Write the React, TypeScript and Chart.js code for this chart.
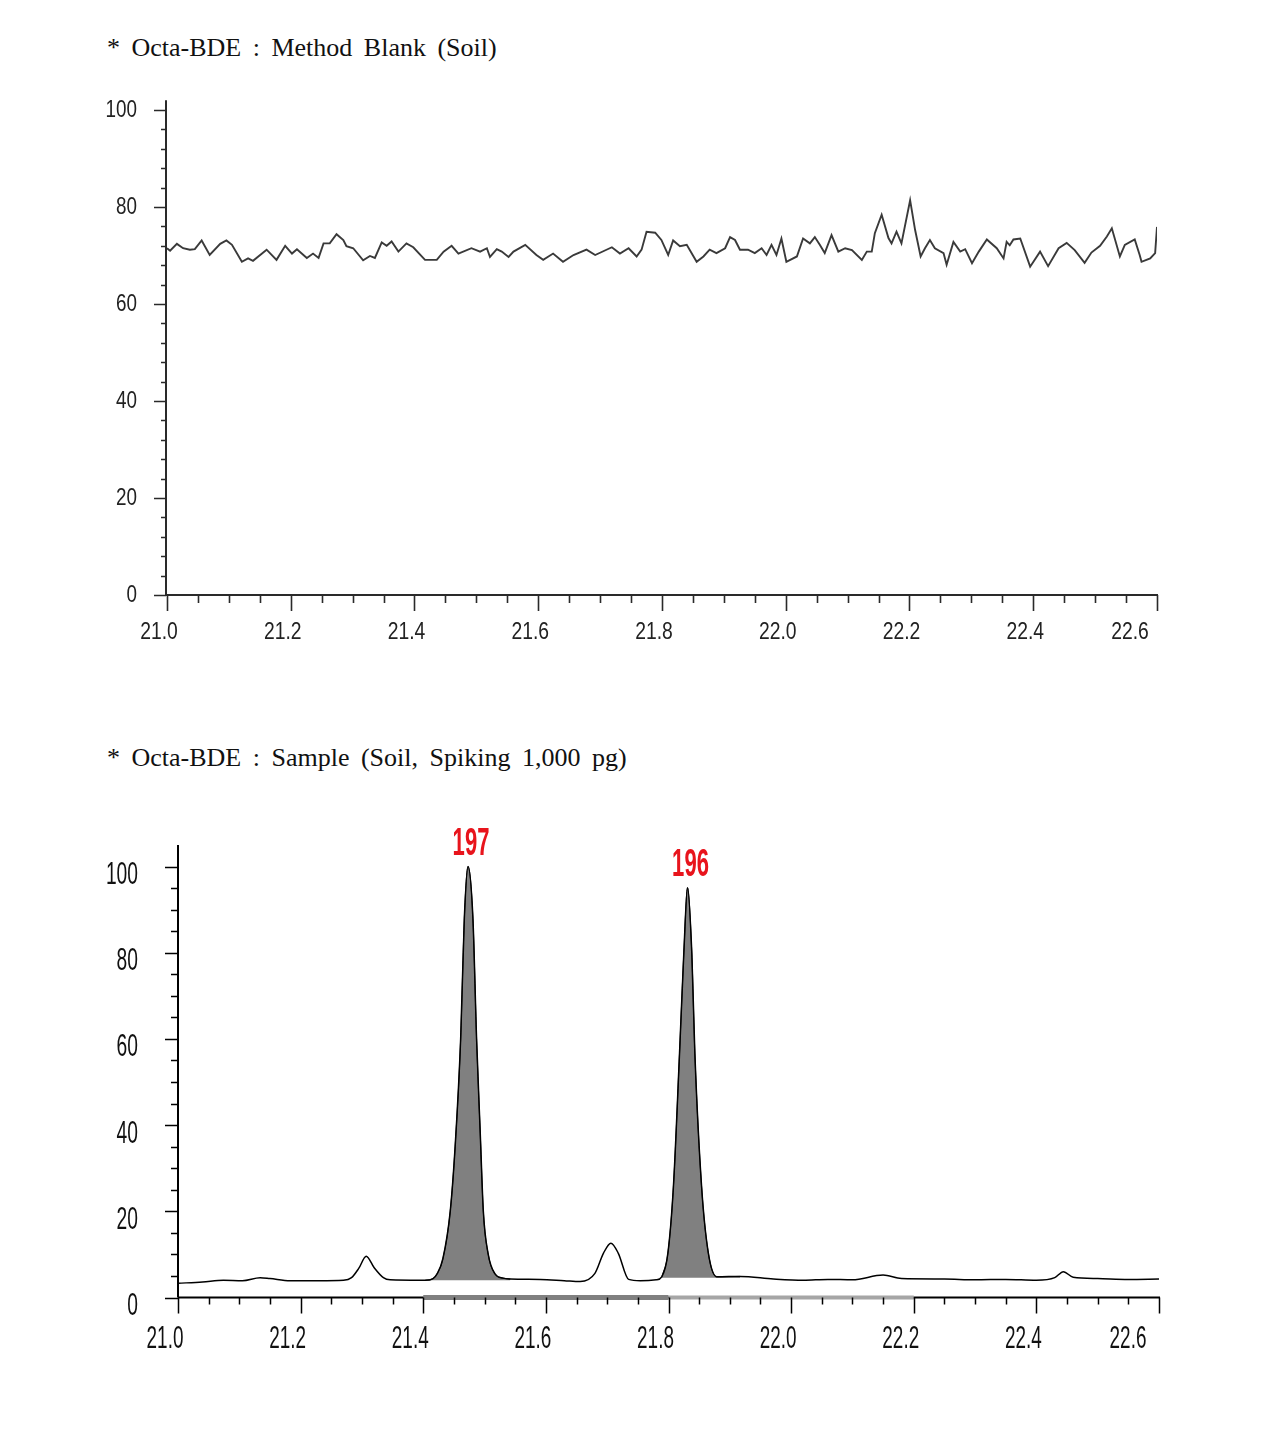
import React, { useEffect, useRef } from 'react';
import { Chart, registerables } from 'chart.js';

Chart.register(...registerables);

// ---------- DATA ----------
const titles = [
  '* Octa-BDE : Method Blank (Soil)',
  '* Octa-BDE : Sample (Soil, Spiking 1,000 pg)',
];

const xTickLabels = ['21.0', '21.2', '21.4', '21.6', '21.8', '22.0', '22.2', '22.4', '22.6'];
const yTickLabels = ['0', '20', '40', '60', '80', '100'];

// Method blank trace (retention time, relative abundance)
const blankTime = [
  21.000, 21.005, 21.016, 21.026, 21.037, 21.045, 21.056, 21.069, 21.086, 21.096,
  21.105, 21.121, 21.131, 21.139, 21.161, 21.177, 21.191, 21.202, 21.210, 21.226,
  21.236, 21.245, 21.253, 21.263, 21.274, 21.285, 21.290, 21.301, 21.317, 21.328,
  21.336, 21.347, 21.355, 21.363, 21.374, 21.387, 21.398, 21.417, 21.436, 21.447,
  21.460, 21.471, 21.492, 21.506, 21.517, 21.522, 21.533, 21.541, 21.552, 21.560,
  21.579, 21.597, 21.608, 21.624, 21.640, 21.657, 21.678, 21.692, 21.719, 21.732,
  21.746, 21.759, 21.767, 21.775, 21.789, 21.799, 21.810, 21.818, 21.829, 21.840,
  21.856, 21.867, 21.877, 21.888, 21.902, 21.910, 21.918, 21.926, 21.939, 21.950,
  21.961, 21.969, 21.977, 21.985, 21.993, 22.001, 22.018, 22.028, 22.039, 22.047,
  22.055, 22.063, 22.074, 22.085, 22.096, 22.107, 22.123, 22.131, 22.139, 22.144,
  22.155, 22.166, 22.171, 22.179, 22.187, 22.201, 22.209, 22.218, 22.225, 22.233,
  22.241, 22.255, 22.260, 22.271, 22.282, 22.290, 22.301, 22.312, 22.325, 22.341,
  22.352, 22.357, 22.362, 22.368, 22.379, 22.395, 22.411, 22.424, 22.441, 22.454,
  22.467, 22.483, 22.494, 22.508, 22.519, 22.527, 22.540, 22.548, 22.564, 22.572,
  22.575, 22.589, 22.597, 22.600,
];
const blankIntensity = [
  71.5, 71.0, 72.4, 71.5, 71.2, 71.3, 73.1, 70.1, 72.4, 73.1,
  72.2, 68.7, 69.4, 68.9, 71.2, 69.1, 72.0, 70.4, 71.3, 69.5,
  70.4, 69.5, 72.5, 72.5, 74.4, 73.2, 71.9, 71.5, 69.0, 69.9,
  69.5, 72.7, 72.0, 72.9, 70.8, 72.5, 71.7, 69.1, 69.1, 70.8,
  72.0, 70.4, 71.5, 70.8, 71.5, 69.7, 71.3, 70.8, 69.7, 70.8,
  72.2, 70.1, 69.1, 70.4, 68.7, 70.1, 71.2, 70.1, 71.7, 70.4,
  71.5, 69.8, 71.2, 74.9, 74.7, 73.2, 70.1, 73.1, 71.9, 72.2,
  68.7, 69.8, 71.2, 70.5, 71.5, 73.8, 73.2, 71.2, 71.2, 70.5,
  71.5, 70.1, 72.2, 70.1, 73.5, 68.7, 69.8, 73.5, 72.5, 73.8,
  72.2, 70.5, 74.2, 70.8, 71.5, 71.1, 69.1, 70.8, 70.8, 74.6,
  78.4, 73.6, 72.5, 74.9, 72.5, 81.4, 75.3, 69.8, 71.5, 73.2,
  71.5, 70.5, 68.1, 72.8, 70.8, 71.3, 68.4, 70.8, 73.3, 71.5,
  69.4, 72.8, 72.1, 73.3, 73.5, 67.7, 70.8, 67.8, 71.5, 72.6,
  71.1, 68.5, 70.6, 72.0, 73.9, 75.6, 69.8, 72.2, 73.3, 70.1,
  68.7, 69.4, 70.5, 75.9,
];

// Spiked sample trace
const sampleTime = [
  21.000, 21.040, 21.074, 21.105, 21.134, 21.150, 21.183, 21.230, 21.270, 21.283,
  21.295, 21.307, 21.320, 21.335, 21.346, 21.395, 21.403, 21.416, 21.4225, 21.432,
  21.444, 21.452, 21.461, 21.467, 21.473, 21.481, 21.487, 21.493, 21.498, 21.506,
  21.517, 21.530, 21.542, 21.591, 21.630, 21.656, 21.680, 21.694, 21.706, 21.718,
  21.735, 21.754, 21.780, 21.789, 21.799, 21.808, 21.818, 21.825, 21.831, 21.838,
  21.843, 21.854, 21.865, 21.879, 21.917, 21.971, 22.020, 22.060, 22.100, 22.150,
  22.180, 22.250, 22.300, 22.350, 22.400, 22.430, 22.444, 22.460, 22.500, 22.550,
  22.600,
];
const sampleIntensity = [
  3.3, 3.6, 4.0, 3.9, 4.6, 4.4, 3.9, 3.9, 4.0, 4.6,
  6.8, 9.6, 6.9, 4.6, 4.1, 4.0, 4.0, 4.4, 5.5, 9.0,
  20.0, 35.0, 60.0, 88.0, 100.0, 88.0, 60.0, 38.0, 20.0, 10.0,
  5.5, 4.5, 4.3, 4.2, 3.9, 3.7, 5.6, 10.3, 12.6, 10.3,
  4.2, 3.9, 4.1, 4.8, 10.3, 25.7, 56.7, 80.0, 95.1, 80.0,
  56.7, 25.7, 10.3, 4.8, 4.9, 4.3, 4.0, 4.2, 4.1, 5.2,
  4.4, 4.3, 4.1, 4.2, 4.0, 4.6, 6.0, 4.7, 4.4, 4.2,
  4.3,
];

const peakNames = ['197', '196'];
const peakTimes = [21.473, 21.831];
const peakHeights = [100, 95.1];
const peakStart = [21.403, 21.789];
const peakEnd = [21.542, 21.917];
const peakBase = [4.0, 4.6];

// ---------- PLUGINS ----------
type AxisCfg = {
  yMax: number;
  axisColor: string;
  axisWidth: number;
  tickWidth: number;
  yAxisDx: number;
  yStep: number;
  yMajLen: number;
  yMinLen: number;
  xMajLen: number;
  xMinLen: number;
  font: string;
  labelColor: string;
  ySx: number;
  xSx: number;
  yLabelGap: number;
  yLabelDy: number;
  xLabelDy: number;
  xLabelDx: number;
  xLastDx: number;
  bands?: [number, number, string, number][];
};

function makeAxesPlugin(cfg: AxisCfg) {
  return {
    id: 'customAxes',
    afterDraw(chart: any) {
      const ctx = chart.ctx as CanvasRenderingContext2D;
      const xs = chart.scales.x;
      const ys = chart.scales.y;
      const x0 = xs.getPixelForValue(21);
      const x1 = xs.getPixelForValue(22.6);
      const yb = ys.getPixelForValue(0);
      const yt = ys.getPixelForValue(cfg.yMax);
      const ax = x0 + cfg.yAxisDx;
      ctx.save();
      ctx.strokeStyle = cfg.axisColor;
      ctx.lineWidth = cfg.axisWidth;
      ctx.beginPath();
      ctx.moveTo(ax, yt);
      ctx.lineTo(ax, yb);
      ctx.moveTo(ax, yb);
      ctx.lineTo(x1 + 1, yb);
      ctx.stroke();

      (cfg.bands || []).forEach((b) => {
        const a = xs.getPixelForValue(b[0]);
        const c = xs.getPixelForValue(b[1]);
        ctx.fillStyle = b[2];
        ctx.fillRect(a, yb - b[3] / 2, c - a, b[3]);
      });

      ctx.lineWidth = cfg.tickWidth;
      ctx.strokeStyle = cfg.axisColor;
      ctx.beginPath();
      const nY = Math.round(100 / cfg.yStep);
      for (let i = 0; i <= nY; i++) {
        const v = i * cfg.yStep;
        const py = Math.round(ys.getPixelForValue(v)) + 0.5;
        const len = v % 20 === 0 ? cfg.yMajLen : cfg.yMinLen;
        ctx.moveTo(ax - len, py);
        ctx.lineTo(ax, py);
      }
      for (let i = 0; i <= 32; i++) {
        const v = 21 + i * 0.05;
        const px = Math.round(xs.getPixelForValue(v)) + 0.5;
        const len = i % 4 === 0 ? cfg.xMajLen : cfg.xMinLen;
        ctx.moveTo(px, yb);
        ctx.lineTo(px, yb + len);
      }
      ctx.stroke();

      ctx.fillStyle = cfg.labelColor;
      ctx.font = cfg.font;
      ctx.textBaseline = 'middle';
      yTickLabels.forEach((lbl) => {
        const py = ys.getPixelForValue(parseFloat(lbl));
        ctx.save();
        ctx.translate(ax - cfg.yLabelGap, py + cfg.yLabelDy);
        ctx.scale(cfg.ySx, 1);
        ctx.textAlign = 'right';
        ctx.fillText(lbl, 0, 0);
        ctx.restore();
      });
      xTickLabels.forEach((lbl, idx) => {
        const px = xs.getPixelForValue(parseFloat(lbl));
        const dx = idx === xTickLabels.length - 1 ? cfg.xLastDx : cfg.xLabelDx;
        ctx.save();
        ctx.translate(px + dx, yb + cfg.xLabelDy);
        ctx.scale(cfg.xSx, 1);
        ctx.textAlign = 'center';
        ctx.fillText(lbl, 0, 0);
        ctx.restore();
      });
      ctx.restore();
    },
  };
}

const peakLabelPlugin = {
  id: 'peakLabels',
  afterDraw(chart: any) {
    const ctx = chart.ctx as CanvasRenderingContext2D;
    const xs = chart.scales.x;
    const ys = chart.scales.y;
    ctx.save();
    ctx.fillStyle = '#e8141c';
    ctx.font = 'bold 38px "Liberation Sans"';
    ctx.textAlign = 'center';
    ctx.textBaseline = 'alphabetic';
    peakNames.forEach((name, i) => {
      const px = xs.getPixelForValue(peakTimes[i]) + 3;
      const py = ys.getPixelForValue(peakHeights[i]) - 12;
      ctx.save();
      ctx.translate(px, py);
      ctx.scale(0.58, 1);
      ctx.fillText(name, 0, 0);
      ctx.restore();
    });
    ctx.restore();
  },
};

// ---------- COMPONENTS ----------
function BlankChart() {
  const ref = useRef<HTMLCanvasElement>(null);
  useEffect(() => {
    if (!ref.current) return;
    const data = blankTime.map((t, i) => ({ x: t, y: blankIntensity[i] }));
    const chart = new Chart(ref.current, {
      type: 'line',
      data: {
        datasets: [
          {
            data,
            borderColor: '#3a3a3a',
            borderWidth: 1.9,
            pointRadius: 0,
            tension: 0,
            fill: false,
          },
        ],
      },
      options: {
        animation: false,
        responsive: false,
        events: [],
        layout: { padding: { left: 167, right: 117, top: 20.3, bottom: 85 } },
        plugins: { legend: { display: false }, tooltip: { enabled: false } },
        scales: {
          x: { type: 'linear', min: 21, max: 22.6, display: false },
          y: { type: 'linear', min: 0, max: 102, display: false },
        },
      },
      plugins: [
        makeAxesPlugin({
          yMax: 102,
          axisColor: '#2a2a2a',
          axisWidth: 2,
          tickWidth: 1.6,
          yAxisDx: -1,
          yStep: 4,
          yMajLen: 12,
          yMinLen: 5,
          xMajLen: 16,
          xMinLen: 8,
          font: '23px "Liberation Sans"',
          labelColor: '#222',
          ySx: 0.82,
          xSx: 0.84,
          yLabelGap: 29,
          yLabelDy: 1,
          xLabelDy: 38,
          xLabelDx: -8,
          xLastDx: -27,
        }),
      ],
    });
    return () => chart.destroy();
  }, []);
  return <canvas ref={ref} width={1274} height={600} style={{ display: 'block' }} />;
}

function SampleChart() {
  const ref = useRef<HTMLCanvasElement>(null);
  useEffect(() => {
    if (!ref.current) return;
    const data = sampleTime.map((t, i) => ({ x: t, y: sampleIntensity[i] }));
    const fills = peakNames.map((_, p) => ({
      data: data.filter((d) => d.x >= peakStart[p] && d.x <= peakEnd[p]),
      borderColor: '#111',
      borderWidth: 1,
      backgroundColor: '#808080',
      pointRadius: 0,
      cubicInterpolationMode: 'monotone' as const,
      fill: { value: peakBase[p] },
      order: 2,
    }));
    const chart = new Chart(ref.current, {
      type: 'line',
      data: {
        datasets: [
          {
            data,
            borderColor: '#000',
            borderWidth: 1.5,
            pointRadius: 0,
            cubicInterpolationMode: 'monotone',
            fill: false,
            order: 1,
          },
          ...fills,
        ],
      },
      options: {
        animation: false,
        responsive: false,
        events: [],
        layout: { padding: { left: 178, right: 115, top: 55, bottom: 92.5 } },
        plugins: { legend: { display: false }, tooltip: { enabled: false } },
        scales: {
          x: { type: 'linear', min: 21, max: 22.6, display: false },
          y: { type: 'linear', min: 0, max: 105, display: false },
        },
      },
      plugins: [
        makeAxesPlugin({
          yMax: 105,
          axisColor: '#000',
          axisWidth: 2,
          tickWidth: 1.5,
          yAxisDx: 0,
          yStep: 5,
          yMajLen: 13,
          yMinLen: 7,
          xMajLen: 16,
          xMinLen: 7,
          font: '31px "Liberation Sans"',
          labelColor: '#111',
          ySx: 0.62,
          xSx: 0.61,
          yLabelGap: 40,
          yLabelDy: 9,
          xLabelDy: 42,
          xLabelDx: -13,
          xLastDx: -31,
          bands: [
            [21.4, 21.8, '#808080', 5],
            [21.8, 22.2, '#a6a6a6', 4],
          ],
        }),
        peakLabelPlugin,
      ],
    });
    return () => chart.destroy();
  }, []);
  return <canvas ref={ref} width={1274} height={600} style={{ display: 'block' }} />;
}

const titleStyle: React.CSSProperties = {
  position: 'absolute',
  left: 107,
  fontFamily: '"Liberation Serif", serif',
  fontSize: 26,
  lineHeight: '26px',
  wordSpacing: 5,
  color: '#111',
  whiteSpace: 'pre',
};

export default function App() {
  return (
    <div
      style={{
        position: 'absolute',
        left: 0,
        top: 0,
        width: 1274,
        height: 1453,
        background: '#fff',
        overflow: 'hidden',
      }}
    >
      <div style={{ ...titleStyle, top: 35 }}>{titles[0]}</div>
      <div style={{ position: 'absolute', left: 0, top: 80 }}>
        <BlankChart />
      </div>
      <div style={{ ...titleStyle, top: 745 }}>{titles[1]}</div>
      <div style={{ position: 'absolute', left: 0, top: 790 }}>
        <SampleChart />
      </div>
    </div>
  );
}
